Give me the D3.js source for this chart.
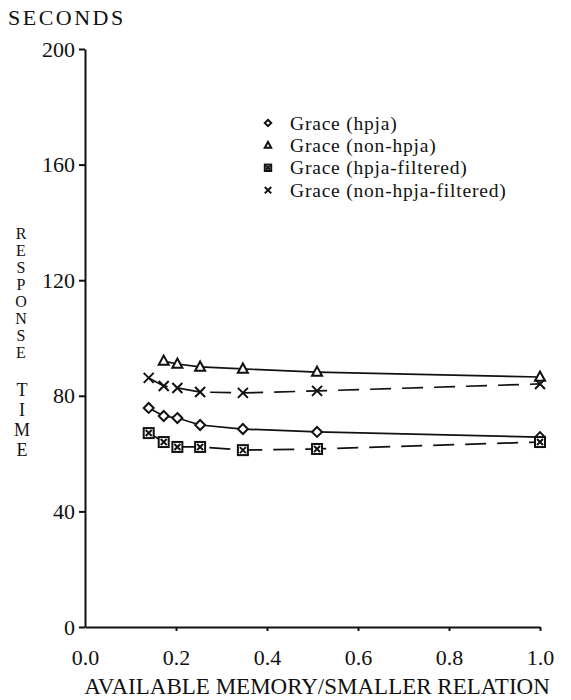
<!DOCTYPE html>
<html>
<head>
<meta charset="utf-8">
<script src="https://cdn.jsdelivr.net/npm/d3@7"></script>
<style>
  body { margin: 0; background: #fff; }
  svg text { font-family: "Liberation Serif", "Times New Roman", Times, "DejaVu Serif", serif; fill: #111; }
  .vert { writing-mode: vertical-rl; text-orientation: upright; }
</style>
</head>
<body>
<div id="chart"></div>
<script>
const width = 571;
const height = 700;
const margin = { top: 49, bottom: 73, left: 85, right: 31 };
const serif = "'Liberation Serif', 'Times New Roman', Times, 'DejaVu Serif', serif";

// memory / smaller relation
const xAll = [0.14, 0.173, 0.203, 0.253, 0.347, 0.51, 1.0];
const xNonHpja = [0.173, 0.203, 0.253, 0.347, 0.51, 1.0];

// response time in seconds
const hpja = [75.8, 73.0, 72.3, 69.9, 68.5, 67.5, 65.7];
const nonHpja = [92.0, 91.0, 90.0, 89.3, 88.2, 86.5];
const hpjaFiltered = [67.1, 64.0, 62.3, 62.3, 61.2, 61.6, 64.0];
const nonHpjaFiltered = [86.2, 83.4, 82.7, 81.3, 81.0, 81.7, 84.1];

const xTicks = [0, 0.2, 0.4, 0.6, 0.8, 1.0];
const yTicks = [0, 40, 80, 120, 160, 200];

const seriesNames = ["Grace (hpja)", "Grace (non-hpja)", "Grace (hpja-filtered)", "Grace (non-hpja-filtered)"];

const series = [
  { name: seriesNames[0], xs: xAll, ys: hpja, symbol: "diamond", dash: null },
  { name: seriesNames[1], xs: xNonHpja, ys: nonHpja, symbol: "triangle", dash: null },
  { name: seriesNames[2], xs: xAll, ys: hpjaFiltered, symbol: "square", dash: "21,11" },
  { name: seriesNames[3], xs: xAll, ys: nonHpjaFiltered, symbol: "cross", dash: "21,11" }
];

const svg = d3.select("#chart")
  .append("svg")
  .attr("width", width)
  .attr("height", height)
  .attr("font-family", serif);

const x = d3.scaleLinear().domain([0, 1]).range([margin.left, width - margin.right]);
const y = d3.scaleLinear().domain([0, 200]).range([height - margin.bottom, margin.top]);

// axes
const xAxis = svg.append("g")
  .attr("transform", `translate(0,${y(0)})`)
  .call(d3.axisBottom(x).tickValues(xTicks).tickSize(4).tickSizeOuter(0).tickFormat(d3.format(".1f")))
  .attr("font-family", serif);
xAxis.select(".domain").attr("stroke", "#111").attr("stroke-width", 2);
xAxis.selectAll(".tick line").attr("stroke", "#111").attr("stroke-width", 2)
  .filter(d => d === 0).remove();
xAxis.selectAll(".tick text").attr("font-size", 22).attr("dy", 0).attr("y", 38);

const yAxis = svg.append("g")
  .attr("transform", `translate(${x(0)},0)`)
  .call(d3.axisLeft(y).tickValues(yTicks).tickSize(6).tickSizeOuter(0))
  .attr("font-family", serif);
yAxis.select(".domain").attr("stroke", "#111").attr("stroke-width", 2);
yAxis.selectAll(".tick line").attr("stroke", "#111").attr("stroke-width", 2);
yAxis.selectAll(".tick text").attr("font-size", 22).attr("x", -10);

// titles
svg.append("text").attr("x", 8).attr("y", 25).attr("font-size", 22)
  .attr("letter-spacing", 2.5).text("SECONDS");

svg.append("text")
  .attr("x", 317)
  .attr("y", 694)
  .attr("text-anchor", "middle")
  .attr("font-size", 23)
  .text("AVAILABLE MEMORY/SMALLER RELATION");

// stacked upright y title
svg.append("text")
  .attr("class", "vert")
  .attr("x", 21).attr("y", 225)
  .attr("font-size", 16)
  .text("RESPONSE");
svg.append("text")
  .attr("class", "vert")
  .attr("x", 22).attr("y", 380)
  .attr("font-size", 18)
  .text("TIME");

// markers
function drawSymbol(g, kind, s) {
  if (kind === "diamond") {
    g.append("path").attr("d", `M0,${-s}L${s},0L0,${s}L${-s},0Z`)
      .attr("fill", "#fff").attr("stroke", "#111").attr("stroke-width", 2);
  } else if (kind === "triangle") {
    g.append("path").attr("d", `M0,${-s * 1.1}L${s},${s * 0.75}L${-s},${s * 0.75}Z`)
      .attr("fill", "#fff").attr("stroke", "#111").attr("stroke-width", 2);
  } else if (kind === "square") {
    g.append("rect").attr("x", -s).attr("y", -s).attr("width", 2 * s).attr("height", 2 * s)
      .attr("fill", "#fff").attr("stroke", "#111").attr("stroke-width", 2);
    g.append("path").attr("d", `M${-s * 0.6},${-s * 0.6}L${s * 0.6},${s * 0.6}M${s * 0.6},${-s * 0.6}L${-s * 0.6},${s * 0.6}`)
      .attr("stroke", "#111").attr("stroke-width", 2);
  } else {
    g.append("path").attr("d", `M${-s},${-s}L${s},${s}M${s},${-s}L${-s},${s}`)
      .attr("stroke", "#111").attr("stroke-width", 2);
  }
}

const line = d3.line().x(d => x(d[0])).y(d => y(d[1]));

series.forEach(sr => {
  const pts = sr.xs.map((v, i) => [v, sr.ys[i]]);
  svg.append("path")
    .attr("d", line(pts))
    .attr("fill", "none")
    .attr("stroke", "#111")
    .attr("stroke-width", 1.7)
    .attr("stroke-dasharray", sr.dash);
  pts.forEach(p => {
    const g = svg.append("g").attr("transform", `translate(${x(p[0])},${y(p[1])})`);
    drawSymbol(g, sr.symbol, 5);
  });
});

// legend
const legend = svg.selectAll(".legend")
  .data(series)
  .enter().append("g")
  .attr("class", "legend")
  .attr("transform", (d, i) => `translate(268,${123 + i * 22.4})`);
legend.each(function (d) {
  drawSymbol(d3.select(this), d.symbol, 3.2);
});
legend.append("text")
  .attr("x", 22).attr("y", 6.5)
  .attr("font-size", 19.5)
  .attr("letter-spacing", 0.8)
  .text(d => d.name);
</script>
</body>
</html>
